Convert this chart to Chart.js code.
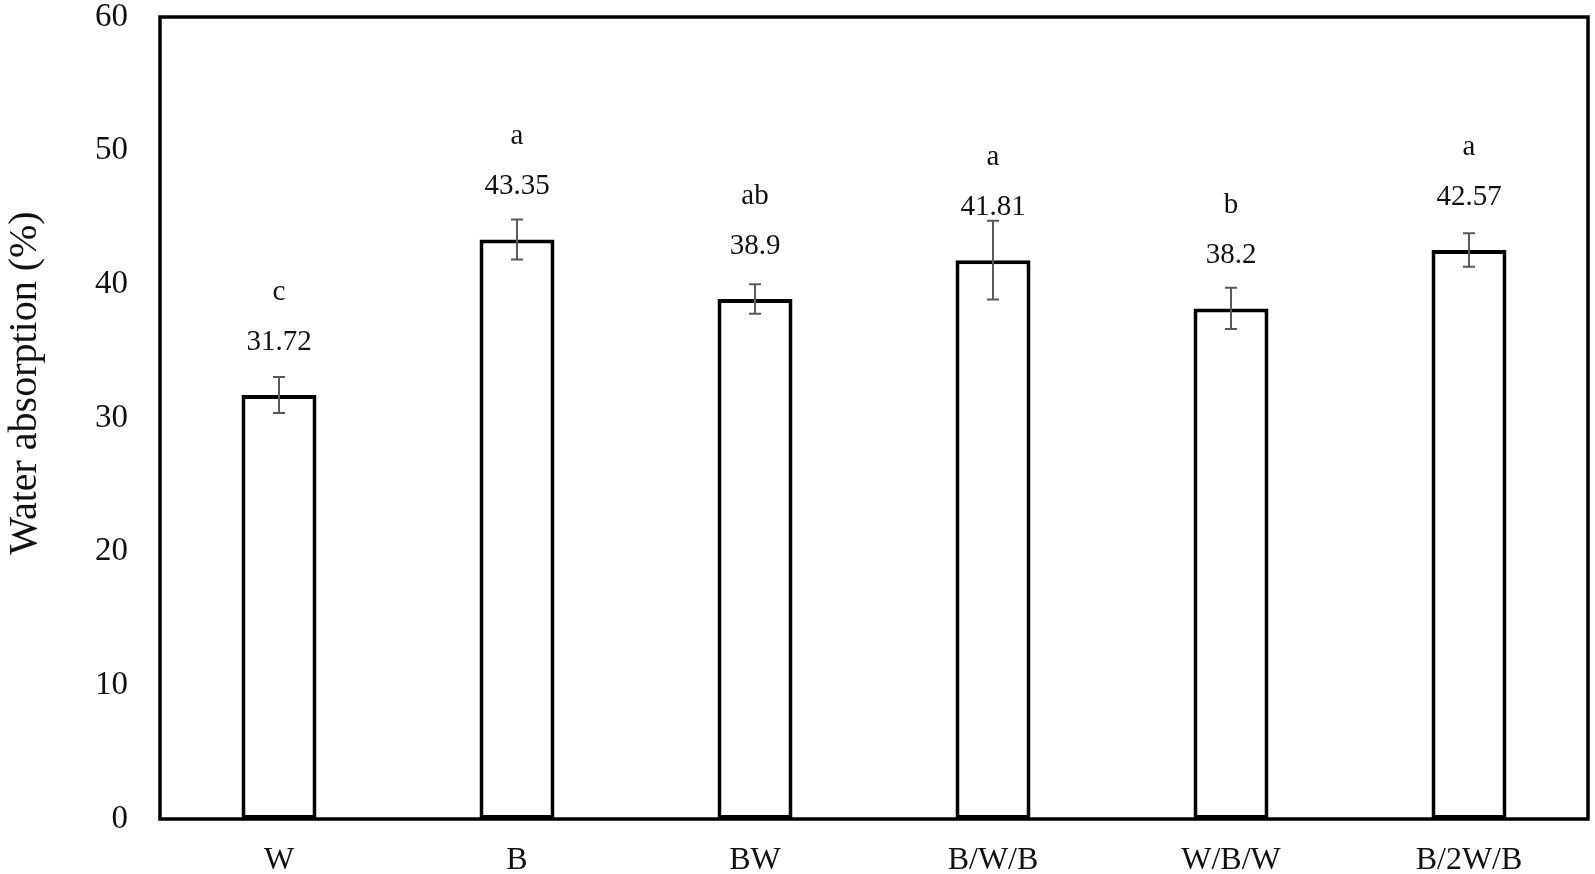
<!DOCTYPE html>
<html>
<head>
<meta charset="utf-8">
<script src="https://cdn.jsdelivr.net/npm/chart.js@4"></script>
<style>
  html, body { margin: 0; padding: 0; background: #fff; }
  #wrap { width: 1595px; height: 874px; }
</style>
</head>
<body>
<div id="wrap"><canvas id="myChart" width="1595" height="874"></canvas></div>
<script>
// data
const categories = ["W", "B", "BW", "B/W/B", "W/B/W", "B/2W/B"];
const absorption = [31.72, 43.35, 38.9, 41.81, 38.2, 42.57];
const errors = [1.35, 1.5, 1.1, 2.95, 1.55, 1.25];
const letters = ["c", "a", "ab", "a", "b", "a"];
const valueLabels = ["31.72", "43.35", "38.9", "41.81", "38.2", "42.57"];
const yTicks = [0, 10, 20, 30, 40, 50, 60];
const yTitle = "Water absorption (%)";

const serif = "'Liberation Serif', 'Times New Roman', serif";

// marco negro alrededor del área del gráfico + título del eje Y
const frame = {
  id: "frame",
  afterDraw(chart) {
    const { ctx, chartArea: a } = chart;
    ctx.save();
    ctx.strokeStyle = "#000";
    ctx.lineWidth = 3.5;
    ctx.strokeRect(a.left, a.top, a.right - a.left, a.bottom - a.top);

    ctx.translate(25, 383);
    ctx.rotate(-Math.PI / 2);
    ctx.fillStyle = "#111";
    ctx.textAlign = "center";
    ctx.textBaseline = "middle";
    ctx.font = "40px " + serif;
    ctx.fillText(yTitle, 0, 0);
    ctx.restore();
  }
};

// barras de error y etiquetas encima de cada barra
const annotate = {
  id: "annotate",
  afterDatasetsDraw(chart) {
    const { ctx } = chart;
    const y = chart.scales.y;
    const bars = chart.getDatasetMeta(0).data;
    ctx.save();
    bars.forEach((bar, i) => {
      const top = y.getPixelForValue(absorption[i] + errors[i]);
      const bot = y.getPixelForValue(absorption[i] - errors[i]);
      ctx.strokeStyle = "#595959";
      ctx.lineWidth = 2;
      ctx.beginPath();
      ctx.moveTo(bar.x, top);
      ctx.lineTo(bar.x, bot);
      ctx.moveTo(bar.x - 6, top);
      ctx.lineTo(bar.x + 6, top);
      ctx.moveTo(bar.x - 6, bot);
      ctx.lineTo(bar.x + 6, bot);
      ctx.stroke();

      ctx.fillStyle = "#111";
      ctx.textAlign = "center";
      ctx.textBaseline = "middle";
      ctx.font = "29px " + serif;
      ctx.fillText(valueLabels[i], bar.x, bar.y - 53);
      ctx.fillText(letters[i], bar.x, bar.y - 103);
    });
    ctx.restore();
  }
};

new Chart(document.getElementById("myChart").getContext("2d"), {
  type: "bar",
  data: {
    labels: categories,
    datasets: [{
      data: absorption,
      backgroundColor: "#fff",
      borderColor: "#000",
      borderWidth: 4,
      borderSkipped: false,
      barPercentage: 0.315,
      categoryPercentage: 1.0
    }]
  },
  options: {
    responsive: false,
    animation: false,
    layout: { padding: { top: 17, right: 7, left: 0, bottom: 0 } },
    plugins: { legend: { display: false }, tooltip: { enabled: false } },
    scales: {
      x: {
        grid: { display: false, drawTicks: false },
        border: { display: false },
        ticks: { color: "#111", padding: 22, font: { family: serif, size: 32 } },
        afterFit(scale) {
          scale.height = 55;
          scale.paddingLeft = 0;
          scale.paddingRight = 0;
        }
      },
      y: {
        min: 0,
        max: 60,
        afterBuildTicks(scale) { scale.ticks = yTicks.map(v => ({ value: v })); },
        grid: { display: false, drawTicks: false },
        border: { display: false },
        ticks: { color: "#111", padding: 32, font: { family: serif, size: 33 } },
        afterFit(scale) {
          scale.width = 160;
          scale.paddingTop = 0;
          scale.paddingBottom = 0;
        }
      }
    }
  },
  plugins: [annotate, frame]
});
</script>
</body>
</html>
